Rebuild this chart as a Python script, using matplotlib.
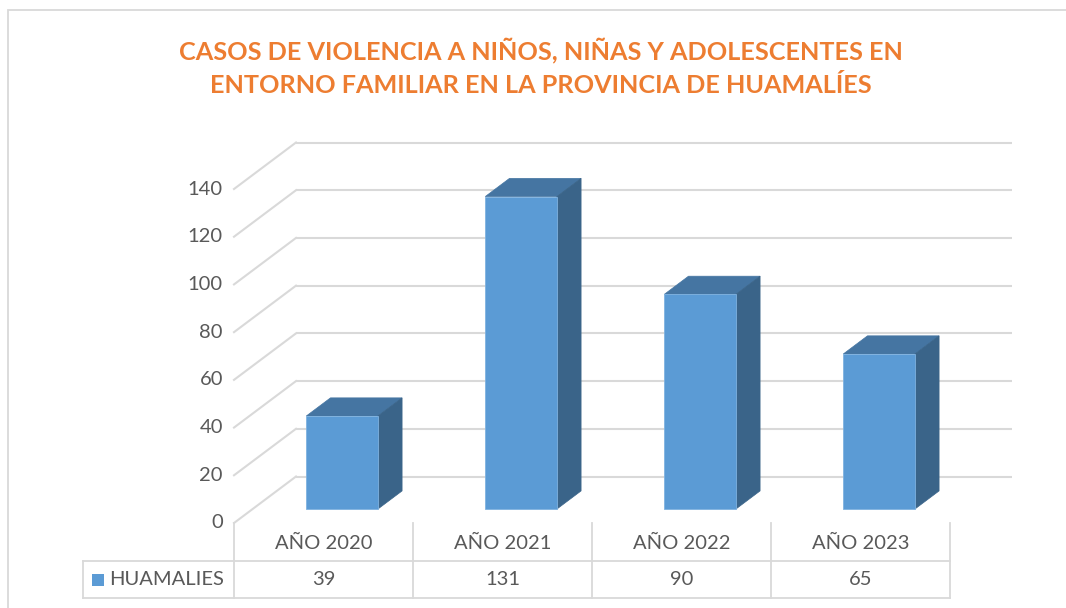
import matplotlib
matplotlib.use("Agg")
import matplotlib.pyplot as plt
from matplotlib.patches import Polygon, Rectangle

# ---- data ----
categories = ["AÑO 2020", "AÑO 2021", "AÑO 2022", "AÑO 2023"]
values = [39, 131, 90, 65]
series_name = "HUAMALIES"
yticks = [0, 20, 40, 60, 80, 100, 120, 140]
title = "CASOS DE VIOLENCIA A NIÑOS, NIÑAS Y ADOLESCENTES EN\nENTORNO FAMILIAR EN LA PROVINCIA DE HUAMALÍES"

# ---- style ----
FONT = "Lato"
plt.rcParams["font.family"] = [FONT, "DejaVu Sans"]
W, H = 1066, 608
C_FRONT = "#5B9BD5"
C_TOP = "#4575A2"
C_SIDE = "#3A6489"
C_GRID = "#D9D9D9"
C_TEXT = "#595959"
C_TITLE = "#ED7D31"
FS = 14.5

fig = plt.figure(figsize=(W / 100, H / 100), dpi=100)

# outer chart border
fig.patches.append(Rectangle((8 / W, -0.01), 1.05, (H - 10) / H + 0.01,
                             transform=fig.transFigure, fill=False,
                             edgecolor=C_GRID, linewidth=1.3))

# axes = front plane of the 3D plot area
x0, x1 = 234, 950
y0, y1 = 523, 189
ax = fig.add_axes([x0 / W, (H - y0) / H, (x1 - x0) / W, (y0 - y1) / H])
ymax = 140
ax.set_xlim(-0.5, len(categories) - 0.5)
ax.set_ylim(0, ymax)
for s in ax.spines.values():
    s.set_visible(False)
ax.set_xticks([])
ax.set_yticks(yticks)
ax.set_yticklabels([str(t) for t in yticks], fontsize=FS, color=C_TEXT)
ax.tick_params(axis="y", length=0, pad=8)
for lab in ax.get_yticklabels():
    lab.set_verticalalignment("center")

# depth offset (data units)
px_per_x = (x1 - x0) / len(categories)
px_per_y = (y0 - y1) / ymax
DX = 62 / px_per_x
DY = 46.5 / px_per_y
xl = -0.5
xr = len(categories) - 0.5

# back wall gridlines and side wall diagonals
for t in yticks:
    ax.plot([xl + DX, xr + DX], [t + DY, t + DY], color=C_GRID, lw=1.5,
            clip_on=False, zorder=1, solid_capstyle="butt")
    ax.plot([xl, xl + DX], [t, t + DY], color=C_GRID, lw=1.5,
            clip_on=False, zorder=1)

# 3D bars
f, b = 0.30, 0.69
bw = 0.40
for i, v in enumerate(values):
    left = i - bw / 2
    right = i + bw / 2
    ax.bar(i + f * DX, v, width=bw, bottom=f * DY, color=C_FRONT,
           edgecolor="#7FB2E0", linewidth=0.6, zorder=4)
    top = Polygon([(left + f * DX, v + f * DY), (right + f * DX, v + f * DY),
                   (right + b * DX, v + b * DY), (left + b * DX, v + b * DY)],
                  closed=True, facecolor=C_TOP, edgecolor=C_TOP, lw=0.5,
                  zorder=3, clip_on=False)
    side = Polygon([(right + f * DX, f * DY), (right + b * DX, b * DY),
                    (right + b * DX, v + b * DY), (right + f * DX, v + f * DY)],
                   closed=True, facecolor=C_SIDE, edgecolor=C_SIDE, lw=0.5,
                   zorder=3, clip_on=False)
    ax.add_patch(top)
    ax.add_patch(side)

# data table
row1 = (y0 - 561) / px_per_y
row2 = (y0 - 598) / px_per_y
leg_left = xl - (x0 - 83) / px_per_x
tkw = dict(color=C_GRID, lw=1.3, clip_on=False, zorder=1)
for k in range(len(categories) + 1):
    ax.plot([xl + k, xl + k], [0, row2], **tkw)
ax.plot([leg_left, leg_left], [row1, row2], **tkw)
ax.plot([leg_left, xr], [row1, row1], **tkw)
ax.plot([leg_left, xr], [row2, row2], **tkw)

for i, (c, v) in enumerate(zip(categories, values)):
    ax.text(i, row1 / 2 - 0.6, c, ha="center", va="center", fontsize=FS,
            color=C_TEXT, clip_on=False)
    ax.text(i, (row1 + row2) / 2, str(v), ha="center", va="center",
            fontsize=FS, color=C_TEXT, clip_on=False)

# legend key + series name
fig.patches.append(Rectangle((92 / W, (H - 586) / H), 12 / W, 12 / H,
                             transform=fig.transFigure, facecolor=C_FRONT,
                             edgecolor="none"))
ax.text(xl - (x0 - 109) / px_per_x, (row1 + row2) / 2, series_name,
        ha="left", va="center", fontsize=FS, color=C_TEXT, clip_on=False)

# title
fig.text(541 / W, (H - 67) / H, title, ha="center", va="center",
         fontsize=18.2, fontweight="bold", color=C_TITLE, linespacing=1.55)

fig.savefig("out.png", dpi=100)
